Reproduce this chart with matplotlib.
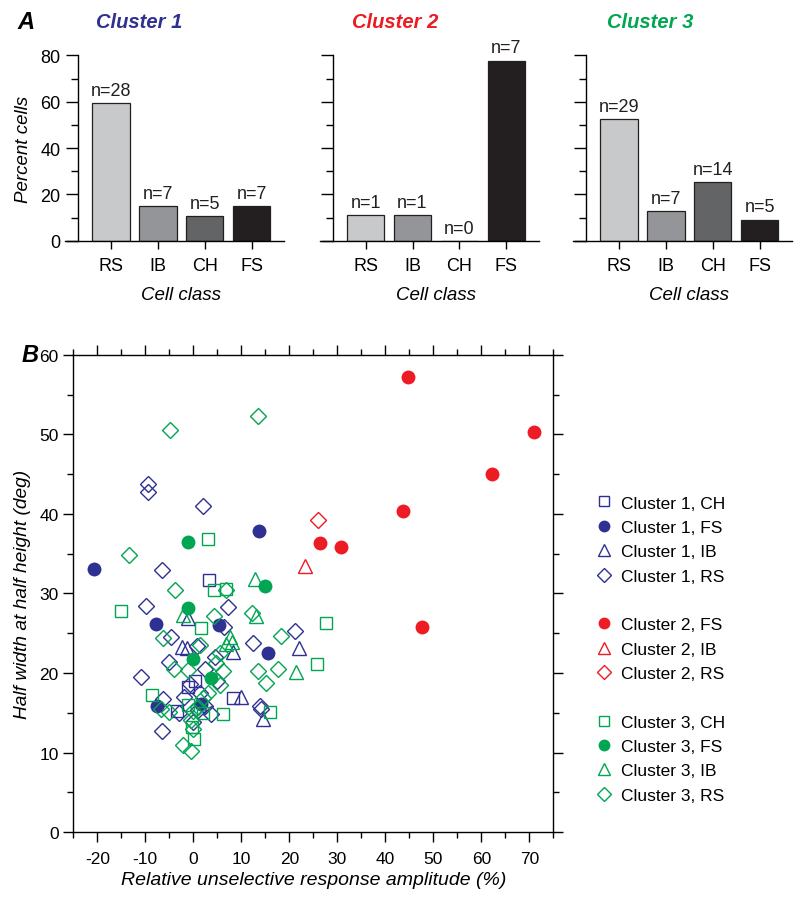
import matplotlib
matplotlib.use('Agg')
import matplotlib.pyplot as plt
from matplotlib.lines import Line2D
from matplotlib.ticker import MultipleLocator

plt.rcParams['font.family'] = ['Liberation Sans', 'DejaVu Sans']
plt.rcParams['axes.unicode_minus'] = False

# ---- bar data (panel A) ----
classes = ['RS', 'IB', 'CH', 'FS']
bar_gray = ['#c8c9cb', '#939598', '#636466', '#231f20']
cluster_names = ['Cluster 1', 'Cluster 2', 'Cluster 3']
cluster_cols = ['#2e3192', '#ed1c24', '#00a651']

pct_c1 = [59.6, 14.9, 10.6, 14.9]
pct_c2 = [11.1, 11.1, 0.0, 77.8]
pct_c3 = [52.7, 12.7, 25.5, 9.1]
n_c1 = [28, 7, 5, 7]
n_c2 = [1, 1, 0, 7]
n_c3 = [29, 7, 14, 5]

# ---- scatter data (panel B) ----
c1_ch_x = [3.3, -1.0, 0.3, 8.2, -3.4]
c1_ch_y = [31.7, 18.3, 19.0, 16.8, 15.2]
c1_fs_x = [-20.6, 13.6, -7.7, 5.3, 15.6, -7.6, 1.7]
c1_fs_y = [33.1, 37.9, 26.1, 26.0, 22.5, 15.8, 16.1]
c1_ib_x = [-1.2, -2.4, -1.4, 22.1, 8.3, 10.0, 14.6]
c1_ib_y = [26.9, 23.3, 23.2, 23.1, 22.7, 17.0, 14.2]
c1_rs_x = [-9.5, -9.5, 2.0, -6.5, -9.8, 7.3, 6.4, 21.2, -4.6, 0.7, 12.4, -5.1, -10.9, -6.6,
           14.2, 0.0, 3.7, -0.6, 1.5, 2.5, -6.4, 1.0, -3.0, 4.5, -2.0, 2.5, 5.0, 13.8]
c1_rs_y = [43.8, 42.8, 41.0, 33.0, 28.4, 28.3, 25.8, 25.3, 24.5, 23.4, 23.8, 21.4, 19.5, 12.7,
           15.5, 13.8, 14.8, 18.6, 17.5, 15.8, 16.7, 15.3, 15.0, 22.0, 17.0, 20.5, 19.0, 15.9]

c2_fs_x = [44.8, 71.0, 62.2, 43.7, 26.4, 30.7, 47.6]
c2_fs_y = [57.2, 50.3, 45.0, 40.4, 36.4, 35.8, 25.8]
c2_ib_x = [23.2]
c2_ib_y = [33.5]
c2_rs_x = [25.9]
c2_rs_y = [39.2]

c3_ch_x = [3.1, 4.3, 6.8, -15.1, 1.7, 27.7, 25.7, -8.5, 6.1, 15.9, 0.2, -0.3, 2.0, -1.0]
c3_ch_y = [36.9, 30.5, 30.6, 27.8, 25.7, 26.3, 21.1, 17.2, 14.8, 15.1, 11.7, 13.2, 15.0, 16.0]
c3_fs_x = [-1.2, -1.0, 14.9, 0.0, 3.7]
c3_fs_y = [36.5, 28.2, 31.0, 21.8, 19.4]
c3_ib_x = [12.8, -2.1, 13.0, 7.6, 8.0, 6.9, 21.4]
c3_ib_y = [31.8, 27.3, 27.2, 24.5, 23.9, 23.6, 20.1]
c3_rs_x = [-4.8, 13.5, -13.4, -3.9, 6.8, 4.3, 12.3, 18.3, -6.3, 1.4, -4.1, -1.0, 4.8, 6.2,
           13.5, 17.6, 15.2, 5.5, -5.1, 0.0, 1.0, 0.0, -2.2, -0.4, -0.5, 3.0, 2.0, -6.8, 5.5]
c3_rs_y = [50.5, 52.3, 34.9, 30.5, 30.4, 27.2, 27.5, 24.7, 24.4, 23.5, 20.5, 20.4, 21.3, 20.3,
           20.3, 20.5, 18.7, 18.5, 15.1, 15.2, 15.7, 13.0, 11.0, 10.2, 14.1, 17.5, 16.8, 15.5, 22.5]

fig = plt.figure(figsize=(8, 9.03), dpi=100)

# ---- panel A: three bar charts ----
bar_lefts = [0.0975, 0.416, 0.7325]
pcts = [pct_c1, pct_c2, pct_c3]
ns = [n_c1, n_c2, n_c3]
title_x = [0.174, 0.494, 0.8125]
for i in range(3):
    ax = fig.add_axes([bar_lefts[i], 0.7323, 0.258, 0.2052])
    xs = list(range(len(classes)))
    ax.bar(xs, pcts[i], width=0.8, color=bar_gray, edgecolor='#231f20', linewidth=0.9)
    for x, p, n in zip(xs, pcts[i], ns[i]):
        ax.annotate('n=%d' % n, (x, p), xytext=(0, 3), textcoords='offset points',
                    ha='center', va='bottom', fontsize=13, color='#231f20')
    ax.set_xlim(-0.7, 3.7)
    ax.set_ylim(0, 80)
    ax.set_xticks(xs)
    ax.set_xticklabels(classes, fontsize=13)
    ax.yaxis.set_major_locator(MultipleLocator(20))
    ax.yaxis.set_minor_locator(MultipleLocator(10))
    ax.tick_params(axis='y', which='major', direction='out', length=9, width=1, labelsize=13)
    ax.tick_params(axis='y', which='minor', direction='out', length=5, width=1)
    ax.tick_params(axis='x', direction='out', length=6, width=1, pad=6)
    if i > 0:
        ax.set_yticklabels([])
    for s in ['top', 'right']:
        ax.spines[s].set_visible(False)
    ax.spines['left'].set_linewidth(1)
    ax.spines['bottom'].set_linewidth(1)
    ax.spines['bottom'].set_bounds(-0.7 - 9 / 47 * 1.4, 3.7)
    ax.set_xlabel('Cell class', fontsize=13.5, style='italic', labelpad=8)
    if i == 0:
        ax.set_ylabel('Percent cells', fontsize=13.5, style='italic', labelpad=6)
    fig.text(title_x[i], 0.975, cluster_names[i], color=cluster_cols[i], fontsize=14.5,
             fontweight='bold', style='italic', ha='center', va='center')

fig.text(0.022, 0.975, 'A', fontsize=17, fontweight='bold', style='italic', va='center')
fig.text(0.027, 0.606, 'B', fontsize=17, fontweight='bold', style='italic', va='center')

# ---- panel B: scatter ----
ax = fig.add_axes([0.0916, 0.0775, 0.6, 0.5283])
blue, red, green = cluster_cols
lw = 1.0
groups = [
    (c1_ch_x, c1_ch_y, 's', blue, False, 'Cluster 1, CH'),
    (c1_fs_x, c1_fs_y, 'o', blue, True, 'Cluster 1, FS'),
    (c1_ib_x, c1_ib_y, '^', blue, False, 'Cluster 1, IB'),
    (c1_rs_x, c1_rs_y, 'D', blue, False, 'Cluster 1, RS'),
    (c2_fs_x, c2_fs_y, 'o', red, True, 'Cluster 2, FS'),
    (c2_ib_x, c2_ib_y, '^', red, False, 'Cluster 2, IB'),
    (c2_rs_x, c2_rs_y, 'D', red, False, 'Cluster 2, RS'),
    (c3_ch_x, c3_ch_y, 's', green, False, 'Cluster 3, CH'),
    (c3_fs_x, c3_fs_y, 'o', green, True, 'Cluster 3, FS'),
    (c3_ib_x, c3_ib_y, '^', green, False, 'Cluster 3, IB'),
    (c3_rs_x, c3_rs_y, 'D', green, False, 'Cluster 3, RS'),
]
msize = {'s': 8.0, 'o': 10.0, '^': 9.5, 'D': 8.0}
handles = []
for gx, gy, m, c, filled, lab in groups:
    ax.plot(gx, gy, linestyle='none', marker=m, markersize=msize[m],
            markerfacecolor=c if filled else 'none', markeredgecolor=c,
            markeredgewidth=0 if filled else lw)
    h = Line2D([], [], linestyle='none', marker=m, markersize=msize[m] * 0.85,
               markerfacecolor=c if filled else 'none', markeredgecolor=c,
               markeredgewidth=0 if filled else lw, label=lab)
    handles.append(h)
    if lab.endswith('RS'):
        handles.append(Line2D([], [], linestyle='none', label=' '))
handles = handles[:-1]

ax.set_xlim(-25, 75)
ax.set_ylim(0, 60)
ax.xaxis.set_major_locator(MultipleLocator(10))
ax.xaxis.set_minor_locator(MultipleLocator(5))
ax.yaxis.set_major_locator(MultipleLocator(10))
ax.yaxis.set_minor_locator(MultipleLocator(5))
ax.set_xticks(range(-20, 71, 10))
ax.tick_params(which='both', direction='out', top=True, right=True, width=1)
ax.tick_params(which='major', length=7, labelsize=12.5)
ax.tick_params(which='minor', length=4)
ax.tick_params(axis='x', pad=7)
for s in ax.spines.values():
    s.set_linewidth(1)
ax.set_xlabel('Relative unselective response amplitude (%)', fontsize=14,
              style='italic', labelpad=3)
ax.set_ylabel('Half width at half height (deg)', fontsize=13.8, style='italic', labelpad=6)

fig.legend(handles=handles, loc='upper left', bbox_to_anchor=(0.735, 0.458),
           frameon=False, fontsize=12.5, handlelength=1.0, handletextpad=0.5,
           labelspacing=0.53, borderaxespad=0)

fig.savefig('out.png', dpi=100)
